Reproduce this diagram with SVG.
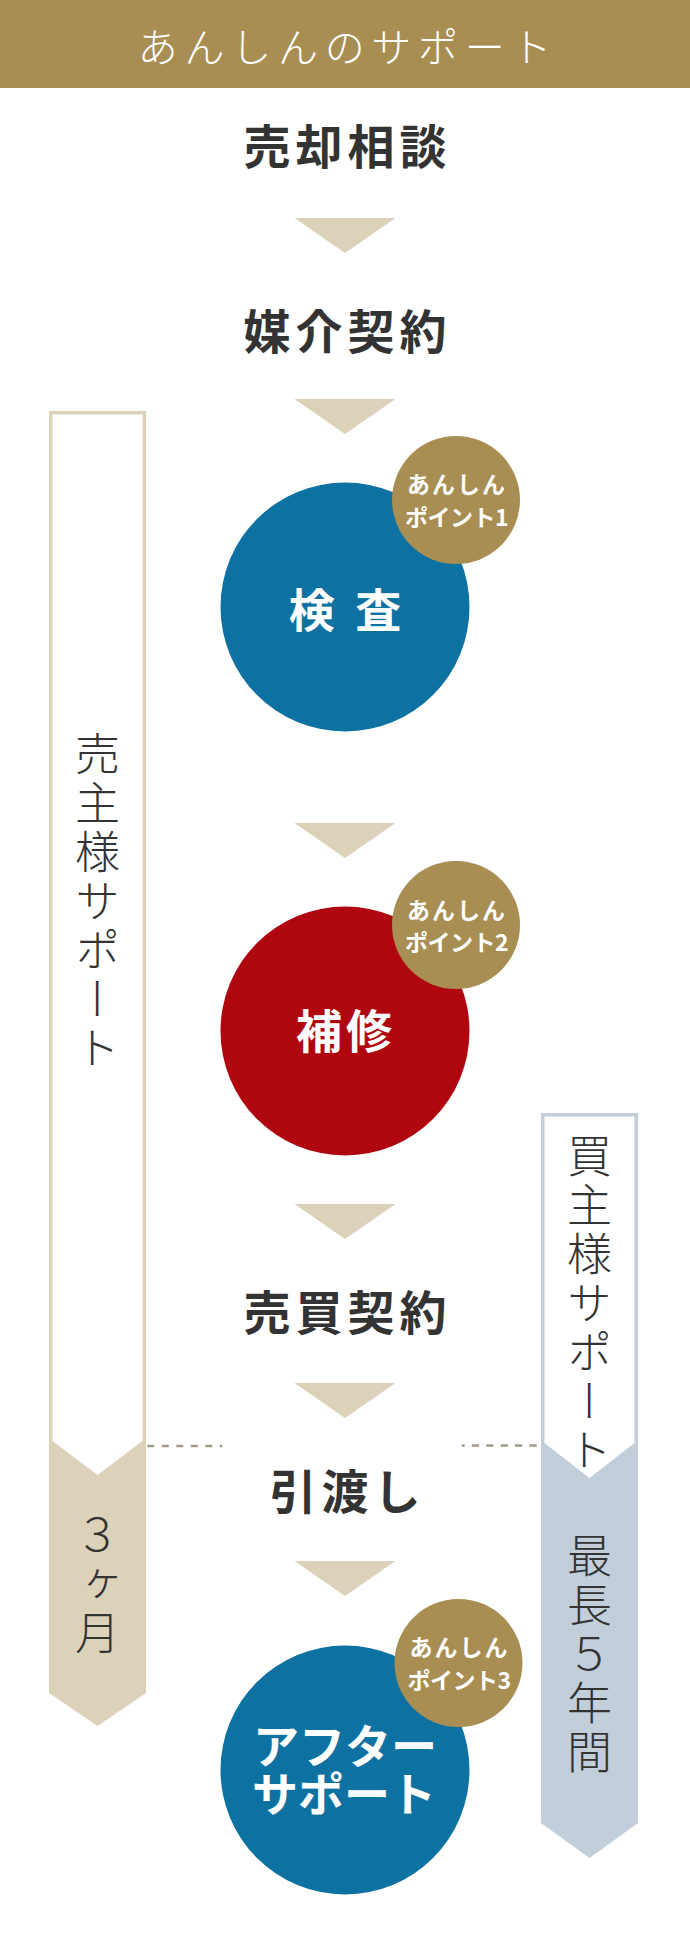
<svg xmlns="http://www.w3.org/2000/svg" width="690" height="1940" viewBox="0 0 690 1940">
<style>
text{font-family:"Noto Sans CJK JP","Noto Sans",sans-serif}
.hdr{fill:#fff;font-size:40px;font-weight:300;letter-spacing:6.7px}
.step{fill:#333;font-size:47px;font-weight:700;letter-spacing:5px}
.main{fill:#fff;font-size:46px;font-weight:700}
.badge{fill:#a88e52}
.bt{fill:#fff;font-size:23px;font-weight:700}
.vt{fill:#333;font-size:45px;font-weight:300;letter-spacing:4px;writing-mode:vertical-rl}
.tri{fill:#dcd2ba}
.dash{stroke:#a39a86;stroke-width:2.5;fill:none}
</style>
<defs>
<polygon id="tri" points="-50.5,0 50.5,0 0,35"/>
</defs>
<g id="header">
<rect x="0" y="0" width="690" height="88" fill="#a88e52"/>
<text class="hdr" x="348" y="62" text-anchor="middle">あんしんのサポート</text>
</g>
<g id="seller-support">
<polygon points="49,411 146,411 146,1693 97.5,1726 49,1693" fill="#dcd2ba"/>
<polygon points="52.5,414.5 142.5,414.5 142.5,1441 97.5,1475 52.5,1441" fill="#fff"/>
<text class="vt" x="97.5" y="731">売主様サポート</text>
<text class="vt" x="97.5" y="1512">３ヶ月</text>
</g>
<g id="buyer-support">
<polygon points="541,1113 638,1113 638,1823 589.5,1858 541,1823" fill="#c2cfdb"/>
<polygon points="544.5,1116.5 634.5,1116.5 634.5,1443 589.5,1478 544.5,1443" fill="#fff"/>
<text class="vt" x="589.5" y="1133">買主様サポート</text>
<text class="vt" x="589.5" y="1533">最長５年間</text>
</g>
<g id="connectors">
<use href="#tri" class="tri" x="345" y="218"/>
<use href="#tri" class="tri" x="345" y="399"/>
<use href="#tri" class="tri" x="345" y="823"/>
<use href="#tri" class="tri" x="345" y="1204"/>
<use href="#tri" class="tri" x="345" y="1383"/>
<use href="#tri" class="tri" x="345" y="1561"/>
<line class="dash" x1="147.3" y1="1446" x2="222.3" y2="1446" stroke-dasharray="7 7.5"/>
<line class="dash" x1="536.7" y1="1445.5" x2="461.7" y2="1445.5" stroke-dasharray="7.3 7.1"/>
</g>
<g id="step-consult">
<text class="step" x="347.5" y="163.5" text-anchor="middle">売却相談</text>
</g>
<g id="step-mediation">
<text class="step" x="347.5" y="348.5" text-anchor="middle">媒介契約</text>
</g>
<g id="step-inspection">
<circle cx="345" cy="607" r="124.5" fill="#0d72a2"/>
<text class="main" x="347.5" y="626.5" text-anchor="middle" font-size="48" letter-spacing="5">検 査</text>
<circle class="badge" cx="456" cy="500" r="64"/>
<text class="bt" x="457" y="493" text-anchor="middle" letter-spacing="2">あんしん</text>
<text class="bt" x="456.5" y="526" text-anchor="middle" letter-spacing="-0.5">ポイント1</text>
</g>
<g id="step-repair">
<circle cx="345" cy="1031" r="124.5" fill="#b00610"/>
<text class="main" x="346" y="1048" text-anchor="middle" letter-spacing="4">補修</text>
<circle class="badge" cx="456" cy="925" r="64"/>
<text class="bt" x="457" y="919" text-anchor="middle" letter-spacing="2">あんしん</text>
<text class="bt" x="456.5" y="951" text-anchor="middle" letter-spacing="-0.5">ポイント2</text>
</g>
<g id="step-sale">
<text class="step" x="347.5" y="1329.5" text-anchor="middle">売買契約</text>
</g>
<g id="step-handover">
<text class="step" x="347.5" y="1508.5" text-anchor="middle">引渡し</text>
</g>
<g id="step-after">
<circle cx="345" cy="1770" r="124.5" fill="#0d72a2"/>
<text class="main" x="345" y="1763" text-anchor="middle" font-size="44">アフター</text>
<text class="main" x="344" y="1811" text-anchor="middle" font-size="44">サポート</text>
<circle class="badge" cx="458.5" cy="1663" r="64"/>
<text class="bt" x="459.5" y="1656" text-anchor="middle" letter-spacing="2">あんしん</text>
<text class="bt" x="459" y="1689" text-anchor="middle" letter-spacing="-0.5">ポイント3</text>
</g>
</svg>
